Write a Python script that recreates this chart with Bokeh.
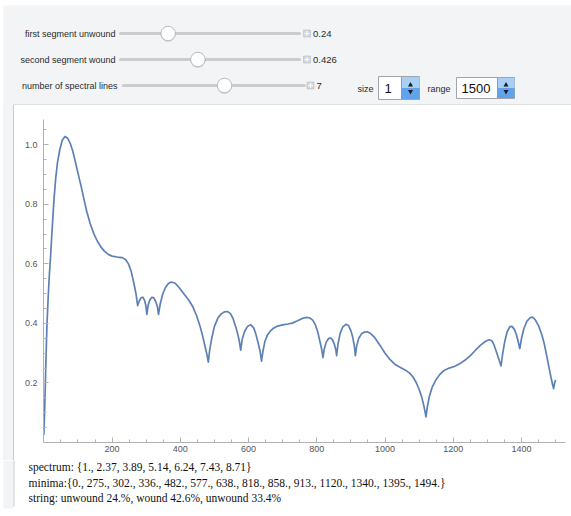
from bokeh.plotting import figure
from bokeh.layouts import column, row
from bokeh.models import Range1d, FixedTicker, PrintfTickFormatter, Spacer
from bokeh.core.properties import value
from bokeh.embed import file_html
from bokeh.resources import INLINE

# ---------------- data ----------------
freq = [0, 3, 6, 9, 12, 16, 20, 25, 30, 35, 40, 47, 54, 62, 70, 78, 85, 92, 100, 110,
        118, 126, 136, 147, 157, 167, 178, 190, 200, 215, 230, 240, 248, 256, 263, 270,
        275, 280, 285, 290, 295, 299, 302, 306, 311, 317, 323, 329, 333, 336, 341, 348,
        356, 365, 374, 385, 398, 412, 425, 437, 448, 458, 466, 473, 478, 482, 486, 492,
        500, 510, 520, 530, 538, 547, 555, 562, 568, 573, 577, 581, 588, 597, 606, 615,
        622, 629, 634, 638, 642, 648, 655, 663, 673, 685, 700, 715, 728, 742, 756, 768,
        778, 788, 796, 803, 809, 814, 818, 822, 828, 835, 841, 847, 852, 856, 858, 862,
        868, 876, 885, 893, 900, 905, 910, 913, 917, 923, 931, 940, 948, 958, 970, 985,
        1000, 1015, 1030, 1045, 1060, 1072, 1082, 1092, 1100, 1107, 1113, 1117, 1120,
        1124, 1130, 1138, 1148, 1160, 1173, 1188, 1205, 1220, 1235, 1250, 1265, 1280,
        1295, 1305, 1313, 1320, 1327, 1334, 1340, 1345, 1351, 1358, 1366, 1372, 1379,
        1385, 1390, 1395, 1400, 1407, 1416, 1426, 1432, 1440, 1450, 1460, 1467, 1474,
        1481, 1487, 1491, 1494, 1497, 1500]
amp = [0.025, 0.13, 0.27, 0.39, 0.47, 0.56, 0.63, 0.73, 0.82, 0.89, 0.94, 0.985, 1.015,
       1.028, 1.022, 1.003, 0.978, 0.945, 0.905, 0.857, 0.815, 0.775, 0.735, 0.70, 0.676,
       0.657, 0.642, 0.631, 0.626, 0.623, 0.621, 0.614, 0.60, 0.575, 0.54, 0.50,
       0.46, 0.476, 0.486, 0.488, 0.478, 0.46, 0.43, 0.463, 0.48, 0.488, 0.485, 0.47,
       0.455, 0.43, 0.465, 0.497, 0.52, 0.534, 0.539, 0.535, 0.518, 0.497, 0.478, 0.455,
       0.425, 0.39, 0.355, 0.32, 0.295, 0.27, 0.31, 0.35, 0.39, 0.418, 0.432, 0.439,
       0.44, 0.433, 0.415, 0.39, 0.365, 0.34, 0.31, 0.345, 0.372, 0.39, 0.396, 0.385,
       0.362, 0.33, 0.305, 0.273, 0.305, 0.34, 0.36, 0.373, 0.384, 0.391, 0.395, 0.398,
       0.401, 0.408, 0.416, 0.42, 0.419, 0.411, 0.395, 0.37, 0.34, 0.315, 0.285, 0.315,
       0.338, 0.35, 0.351, 0.343, 0.328, 0.31, 0.292, 0.33, 0.365, 0.388, 0.397, 0.393,
       0.375, 0.355, 0.325, 0.292, 0.325, 0.35, 0.365, 0.371, 0.372, 0.366, 0.352, 0.327,
       0.30, 0.278, 0.262, 0.252, 0.243, 0.233, 0.22, 0.20, 0.178, 0.155, 0.127, 0.105,
       0.086, 0.12, 0.155, 0.185, 0.208, 0.228, 0.242, 0.25, 0.256, 0.265, 0.277, 0.292,
       0.31, 0.327, 0.34, 0.345, 0.342, 0.326, 0.302, 0.278, 0.257, 0.30, 0.34, 0.372,
       0.389, 0.39, 0.38, 0.362, 0.34, 0.315, 0.35, 0.383, 0.408, 0.42, 0.421, 0.413,
       0.392, 0.36, 0.33, 0.29, 0.25, 0.215, 0.195, 0.181, 0.20, 0.21]

x_major_ticks = [200, 400, 600, 800, 1000, 1200, 1400]
y_major_ticks = [0.2, 0.4, 0.6, 0.8, 1.0]

slider_labels = ["first segment unwound", "second segment wound", "number of spectral lines"]
slider_values = ["0.24", "0.426", "7"]
size_value = "1"
range_value = "1500"

spectrum = ["1.", "2.37", "3.89", "5.14", "6.24", "7.43", "8.71"]
minima = ["0.", "275.", "302.", "336.", "482.", "577.", "638.", "818.", "858.", "913.",
          "1120.", "1340.", "1395.", "1494."]
string_parts = ["unwound 24.%", "wound 42.6%", "unwound 33.4%"]

# ---------------- styles ----------------
PANEL = "#f2f4f5"
BORDER = "#c9cccf"
LINE = "#5e81b5"
SANS = value("Liberation Sans")
SERIF = value("Liberation Serif")


def blank(fig, bg="white"):
    fig.background_fill_color = bg
    fig.border_fill_color = bg
    fig.outline_line_color = None
    fig.grid.visible = False


# ---------------- control panel (page pixel coords) ----------------
T = figure(width=571, height=105, x_range=Range1d(0, 571), y_range=Range1d(105, 0),
           output_backend="svg", toolbar_location=None, min_border=0,
           x_axis_location=None, y_axis_location=None)
blank(T)
T.quad(left=[3], right=[571], top=[5], bottom=[105], fill_color=PANEL, line_color=None)

row_y = [33, 59, 85]
label_right = [115, 115, 117]
track_x0 = [120, 120, 123]
track_x1 = [299, 299, 304]
thumb_x = [167.6, 197.4, 224]
icon_x = [306.5, 306.5, 310]
value_x = [312.5, 312.5, 316]

T.text(x=label_right, y=row_y, text=slider_labels, text_font=SANS, text_font_size="9px",
       text_align="right", text_baseline="middle", text_color="#2b2b2b")
T.segment(x0=track_x0, y0=row_y, x1=track_x1, y1=row_y, line_width=3,
          line_color="#cacccf", line_cap="round")
T.scatter(x=thumb_x, y=[v + 1 for v in row_y], size=15, fill_color="#000000",
          fill_alpha=0.10, line_color=None)
T.scatter(x=thumb_x, y=row_y, size=14.5, fill_color="white", line_color="#a8abae",
          line_width=0.8)
T.rect(x=icon_x, y=row_y, width=7, height=7, fill_color="#d3d7da", line_color="#b9bdc1",
       line_width=0.6)
T.segment(x0=[v - 2.5 for v in icon_x], y0=row_y, x1=[v + 2.5 for v in icon_x], y1=row_y,
          line_color="white", line_width=1)
T.segment(x0=icon_x, y0=[v - 2.5 for v in row_y], x1=icon_x, y1=[v + 2.5 for v in row_y],
          line_color="white", line_width=1)
T.text(x=value_x, y=row_y, text=slider_values, text_font=SANS, text_font_size="9.5px",
       text_align="left", text_baseline="middle", text_color="#2b2b2b")

# size / range popup menus
T.text(x=[357, 427], y=[88, 88], text=["size", "range"], text_font=SANS,
       text_font_size="9px", text_align="left", text_baseline="middle", text_color="#2b2b2b")
T.quad(left=[378, 456], right=[419, 514], top=[76, 77], bottom=[99, 98],
       fill_color="white", line_color="#a3a6a9", line_width=1)
T.quad(left=[401, 497], right=[419, 514], top=[76.5, 77.5], bottom=[87.5, 87.5],
       fill_color="#a8d0f6", line_color=None)
T.quad(left=[401, 497], right=[419, 514], top=[87.5, 87.5], bottom=[98.5, 97.5],
       fill_color="#5fa3ec", line_color=None)
T.segment(x0=[401, 497], y0=[76.5, 77.5], x1=[401, 497], y1=[98.5, 97.5],
          line_color="#6a8fc0", line_width=0.8)
T.scatter(x=[410, 505.5], y=[84.5, 84.5], marker="triangle", size=5,
          fill_color="#1d1d1d", line_color=None)
T.scatter(x=[410, 505.5], y=[91, 91], marker="inverted_triangle", size=5,
          fill_color="#1d1d1d", line_color=None)
T.text(x=[384, 461], y=[88, 88], text=[size_value, range_value], text_font=SANS,
       text_font_size="13px", text_align="left", text_baseline="middle", text_color="#111111")
T.segment(x0=[13], y0=[104.5], x1=[571], y1=[104.5], line_color=BORDER, line_width=1)

# ---------------- left gray strip beside the chart (plain layout element) ----------------
S = Spacer(width=14, height=355, styles={
    "background": "linear-gradient(to right, #ffffff 0px, #ffffff 3px, "
                  + PANEL + " 3px, " + PANEL + " 13px, " + BORDER + " 13px, " + BORDER + " 14px)"})

# ---------------- chart ----------------
C = figure(width=557, height=355, x_range=Range1d(-1.0, 1528.9), y_range=Range1d(0, 1.085),
           output_backend="svg", toolbar_location=None,
           min_border_left=29, min_border_right=6, min_border_top=14, min_border_bottom=18)
blank(C)

C.line(freq, amp, line_color=LINE, line_width=1.7, line_join="round")

for ax in (C.xaxis[0], C.yaxis[0]):
    ax.axis_line_color = "#b1b1b1"
    ax.major_tick_line_color = "#b1b1b1"
    ax.minor_tick_line_color = "#b1b1b1"
    ax.major_tick_in = 5
    ax.major_tick_out = 0
    ax.minor_tick_in = 3
    ax.minor_tick_out = 0
    ax.major_label_text_font = "Liberation Sans"
    ax.major_label_text_font_size = "9px"
    ax.major_label_text_color = "#555555"

C.xaxis.ticker = FixedTicker(ticks=x_major_ticks,
                             minor_ticks=[50 * k for k in range(1, 31)])
C.yaxis.ticker = FixedTicker(ticks=y_major_ticks,
                             minor_ticks=[0.05 * k for k in range(1, 22)])
C.yaxis.formatter = PrintfTickFormatter(format="%.1f")
C.xaxis.major_label_standoff = 3
C.yaxis.major_label_standoff = 6

# ---------------- text under the chart (full width, page coords) ----------------
Tx = figure(width=571, height=56, x_range=Range1d(0, 571), y_range=Range1d(516, 460),
            output_backend="svg", toolbar_location=None, min_border=0,
            x_axis_location=None, y_axis_location=None)
blank(Tx)
Tx.quad(left=[3], right=[13], top=[460], bottom=[508], fill_color=PANEL, line_color=None)
Tx.segment(x0=[13.5], y0=[460], x1=[13.5], y1=[506], line_color=BORDER, line_width=1)

lines = [
    "spectrum: {" + ", ".join(spectrum) + "}",
    "minima:{" + ", ".join(minima) + "}",
    "string: " + ", ".join(string_parts),
]
Tx.text(x=[28, 28, 28], y=[466.5, 482, 497.5], text=lines, text_font=SERIF,
        text_font_size="11.5px", text_align="left", text_baseline="middle",
        text_color="#111111")

layout = column(T, row(S, C), Tx)
open("out.html", "w").write(file_html(layout, INLINE))
